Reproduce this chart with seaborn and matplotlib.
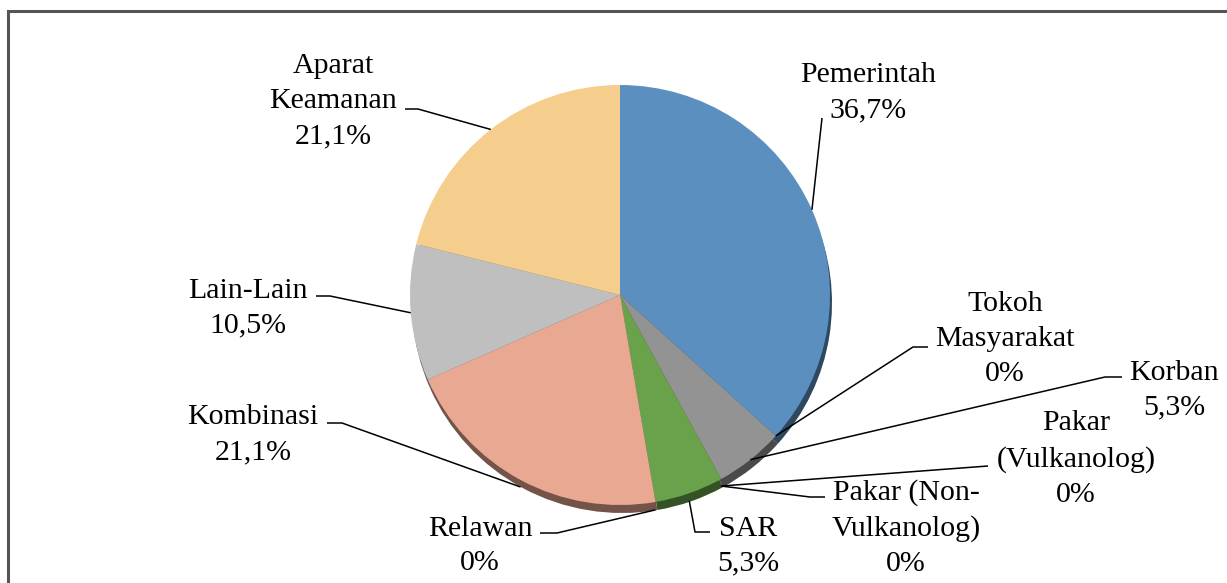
import numpy as np
import matplotlib
matplotlib.use('Agg')
import matplotlib.pyplot as plt
import matplotlib.colors as mcolors
from matplotlib.patches import Rectangle
import seaborn as sns

# data
categories = ['Pemerintah', 'Tokoh Masyarakat', 'Korban', 'Pakar (Vulkanolog)',
              'Pakar (Non-Vulkanolog)', 'SAR', 'Relawan', 'Kombinasi',
              'Lain-Lain', 'Aparat Keamanan']
label_names = ['Pemerintah', 'Tokoh\nMasyarakat', 'Korban', 'Pakar\n(Vulkanolog)',
               'Pakar (Non-\nVulkanolog)', 'SAR', 'Relawan', 'Kombinasi',
               'Lain-Lain', 'Aparat\nKeamanan']
percent = [36.7, 0, 5.3, 0, 0, 5.3, 0, 21.1, 10.5, 21.1]

slice_colors = ['#5b8fc0', '#7f7f7f', '#939393', '#7f7f7f', '#7f7f7f',
                '#6aa24b', '#aaaaaa', '#e8a892', '#bfbfbf', '#f5cd8c']

W, H = 1227, 583

# layout (pixel coords, y from top): label centres and leader elbows
label_pos = [(868, 93), (1005, 339), (1174, 390), (1076, 459), (906, 528),
             (748, 546), (480, 546), (253, 435), (248, 308), (333, 101)]
leader_pts = [
    [(822, 118)],
    [(928, 347), (913, 347)],
    [(1122, 377), (1105, 377)],
    [(988, 466)],
    [(825, 497), (810, 497)],
    [(710, 532), (695, 532)],
    [(540, 533), (557, 533)],
    [(327, 423), (342, 423)],
    [(316, 296), (330, 296)],
    [(405, 109), (418, 109)],
]

sns.set_theme(style='white')
plt.rcParams['font.family'] = ['Liberation Serif', 'DejaVu Serif']

fig = plt.figure(figsize=(W / 100, H / 100), dpi=100)
ax = fig.add_axes([0, 0, 1, 1])

cx, cy, R = 620, 295, 210
rim = 8

def flip(p):
    return (p[0], H - p[1])

# darker copy underneath gives the bevelled rim
dark = [tuple(np.array(mcolors.to_rgb(c)) * 0.5) for c in slice_colors]
ax.pie(percent, startangle=90, counterclock=False, colors=dark,
       center=(cx + 2, H - cy - rim), radius=R,
       wedgeprops=dict(linewidth=0))
wedges, _ = ax.pie(percent, startangle=90, counterclock=False, colors=slice_colors,
                   center=(cx, H - cy), radius=R,
                   wedgeprops=dict(linewidth=0))

ax.set_xlim(0, W)
ax.set_ylim(0, H)
ax.set_aspect('equal')
ax.axis('off')

for i, w in enumerate(wedges):
    mid = np.deg2rad((w.theta1 + w.theta2) / 2)
    sx = cx + R * np.cos(mid)
    sy = H - cy + R * np.sin(mid)
    if np.sin(mid) < -0.85:
        sy -= rim * (-np.sin(mid))
    pts = [(sx, sy)] + [flip(p) for p in reversed(leader_pts[i])]
    xs, ys = zip(*pts)
    ax.plot(xs, ys, color='black', lw=1.1, solid_capstyle='butt')

    v = percent[i]
    pct = '0%' if v == 0 else f'{v:.1f}'.replace('.', ',') + '%'
    lx, ly = flip(label_pos[i])
    ax.text(lx, ly, label_names[i] + '\n' + pct, ha='center', va='center',
            multialignment='center', fontsize=21.5, linespacing=1.45, color='black')

# outer frame, partly cut by the image edges
ax.add_patch(Rectangle((8, -20), W + 20, H - 11 + 20, fill=False,
                       edgecolor='#555555', lw=2.2, clip_on=False))

fig.savefig('out.png', dpi=100, facecolor='white')
